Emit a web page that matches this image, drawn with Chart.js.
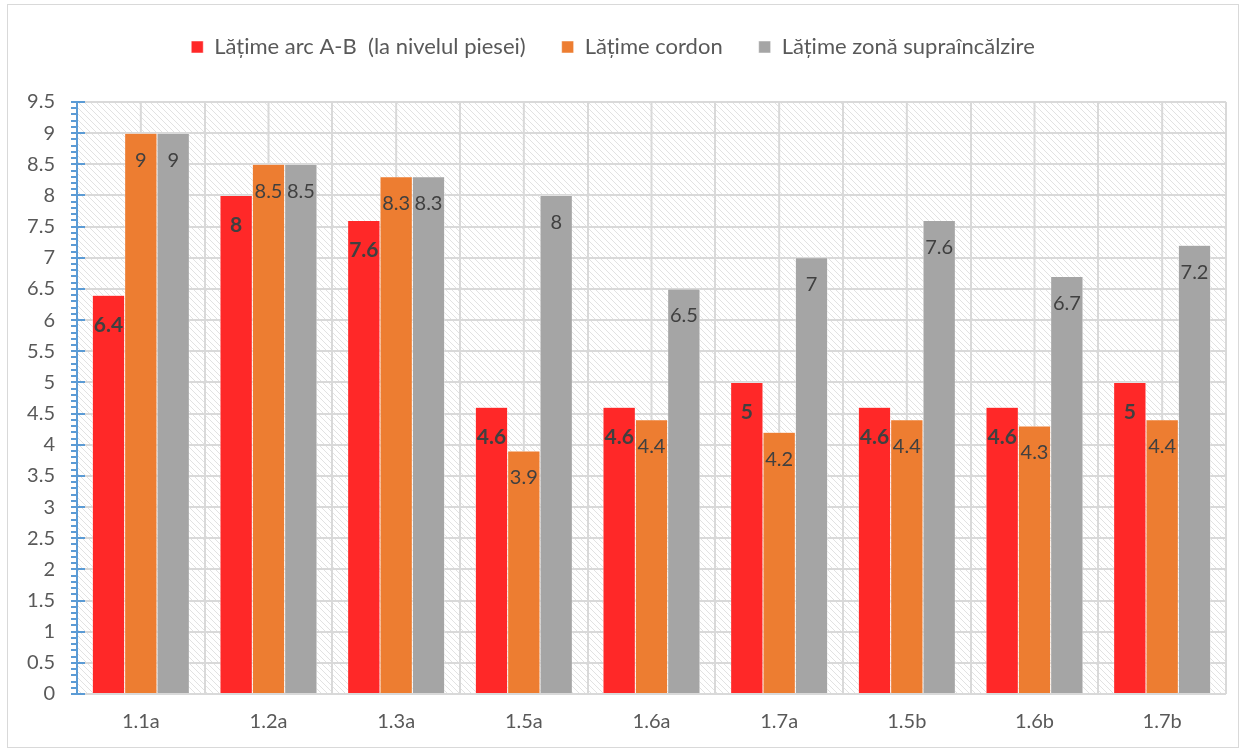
<!DOCTYPE html>
<html>
<head>
<meta charset="utf-8">
<script src="https://cdn.jsdelivr.net/npm/chart.js@4"></script>
<style>
  html, body { margin: 0; padding: 0; background: #fff; }
  #wrap { position: relative; width: 1245px; height: 751px; }
</style>
</head>
<body>
<div id="wrap"><canvas id="chart" width="1245" height="751"></canvas></div>
<script>
const samples = ["1.1a", "1.2a", "1.3a", "1.5a", "1.6a", "1.7a", "1.5b", "1.6b", "1.7b"];
const arcWidth = [6.4, 8, 7.6, 4.6, 4.6, 5, 4.6, 4.6, 5];
const beadWidth = [9, 8.5, 8.3, 3.9, 4.4, 4.2, 4.4, 4.3, 4.4];
const heatZoneWidth = [9, 8.5, 8.3, 8, 6.5, 7, 7.6, 6.7, 7.2];
const seriesNames = ["Lățime arc A-B  (la nivelul piesei)", "Lățime cordon", "Lățime zonă supraîncălzire"];

const FONT = "Lato, 'Open Sans', sans-serif";
const textColor = "#595959";
const gridColor = "#d9d9d9";

// diagonal hatch used behind the bars
function makeHatch() {
    const c = document.createElement("canvas");
    c.width = 6; c.height = 6;
    const g = c.getContext("2d");
    g.fillStyle = "#ffffff";
    g.fillRect(0, 0, 6, 6);
    g.strokeStyle = "#e2e2e2";
    g.lineWidth = 1;
    g.beginPath();
    g.moveTo(-1, -1); g.lineTo(7, 7);
    g.moveTo(-1, 5); g.lineTo(1, 7);
    g.moveTo(5, -1); g.lineTo(7, 1);
    g.stroke();
    return g.createPattern(c, "repeat");
}

const backdrop = {
    id: "backdrop",
    beforeLayout(chart) {
        // leave more room between the legend and the plot
        const lg = chart.legend;
        if (lg && !lg._padded) {
            const fit = lg.fit;
            lg.fit = function () { fit.call(this); this.height += 34; };
            lg._padded = true;
        }
    },
    beforeDraw(chart) {
        const ctx = chart.ctx;
        const a = chart.chartArea;
        ctx.save();
        ctx.fillStyle = "#fff";
        ctx.fillRect(0, 0, chart.width, chart.height);
        ctx.strokeStyle = gridColor;
        ctx.lineWidth = 1;
        ctx.strokeRect(7.5, 4.5, chart.width - 14, chart.height - 8);
        ctx.fillStyle = makeHatch();
        ctx.fillRect(a.left, a.top, a.right - a.left, a.bottom - a.top);
        ctx.restore();
    },
    beforeDatasetsDraw(chart) {
        // extra vertical lines through each category centre
        const ctx = chart.ctx;
        const a = chart.chartArea;
        const x = chart.scales.x;
        ctx.save();
        ctx.strokeStyle = gridColor;
        ctx.lineWidth = 2;
        samples.forEach((s, i) => {
            const px = x.getPixelForValue(i);
            ctx.beginPath();
            ctx.moveTo(px, a.top);
            ctx.lineTo(px, a.bottom);
            ctx.stroke();
        });
        ctx.restore();
    },
    afterDatasetsDraw(chart) {
        const ctx = chart.ctx;
        const y = chart.scales.y;
        const a = chart.chartArea;
        ctx.save();
        // value labels inside the top of each bar
        chart.data.datasets.forEach((ds, di) => {
            const meta = chart.getDatasetMeta(di);
            meta.data.forEach((bar, i) => {
                const bold = di === 0;
                ctx.font = (bold ? "bold 21px " : "20px ") + FONT;
                ctx.fillStyle = "#404040";
                ctx.textAlign = "center";
                ctx.textBaseline = "middle";
                ctx.fillText(String(ds.data[i]), bar.x, bar.y + (bold ? 30 : 27));
            });
        });
        // blue value axis with minor ticks
        ctx.strokeStyle = "#5b9bd5";
        ctx.lineWidth = 2;
        ctx.beginPath();
        ctx.moveTo(a.left, a.top);
        ctx.lineTo(a.left, a.bottom);
        for (let k = 0; k <= 95; k++) {
            const py = Math.round(y.getPixelForValue(k / 10));
            const major = k % 5 === 0;
            ctx.moveTo(a.left - 6, py);
            ctx.lineTo(a.left + (major ? 8 : 0), py);
        }
        ctx.stroke();
        ctx.restore();
    }
};

new Chart(document.getElementById("chart").getContext("2d"), {
    type: "bar",
    data: {
        labels: samples,
        datasets: [
            { label: seriesNames[0], data: arcWidth, backgroundColor: "#ff2828", borderColor: "#ffffff", borderWidth: 0.5 },
            { label: seriesNames[1], data: beadWidth, backgroundColor: "#ed7d31", borderColor: "#ffffff", borderWidth: 0.5 },
            { label: seriesNames[2], data: heatZoneWidth, backgroundColor: "#a5a5a5", borderColor: "#ffffff", borderWidth: 0.5 }
        ]
    },
    options: {
        responsive: false,
        animation: false,
        layout: { padding: { left: 0, right: 19, top: 0, bottom: 0 } },
        datasets: {
            bar: { categoryPercentage: 0.76, barPercentage: 1 }
        },
        plugins: {
            legend: {
                position: "top",
                labels: {
                    font: { family: FONT, size: 22 },
                    color: textColor,
                    boxWidth: 12,
                    boxHeight: 12,
                    padding: 36
                }
            },
            tooltip: { enabled: false }
        },
        scales: {
            x: {
                grid: { color: gridColor, lineWidth: 2, offset: true, drawTicks: false },
                border: { display: false },
                ticks: { font: { family: FONT, size: 20 }, color: textColor, padding: 16 },
                afterFit: (s) => { s.height = 57; }
            },
            y: {
                min: 0,
                max: 9.5,
                grid: { color: gridColor, lineWidth: 2, drawTicks: false },
                border: { display: false },
                ticks: {
                    stepSize: 0.5,
                    font: { family: FONT, size: 20 },
                    color: textColor,
                    padding: 22,
                    callback: (v) => String(+v.toFixed(1))
                },
                afterFit: (s) => { s.width = 77; }
            }
        }
    },
    plugins: [backdrop]
});
</script>
</body>
</html>
